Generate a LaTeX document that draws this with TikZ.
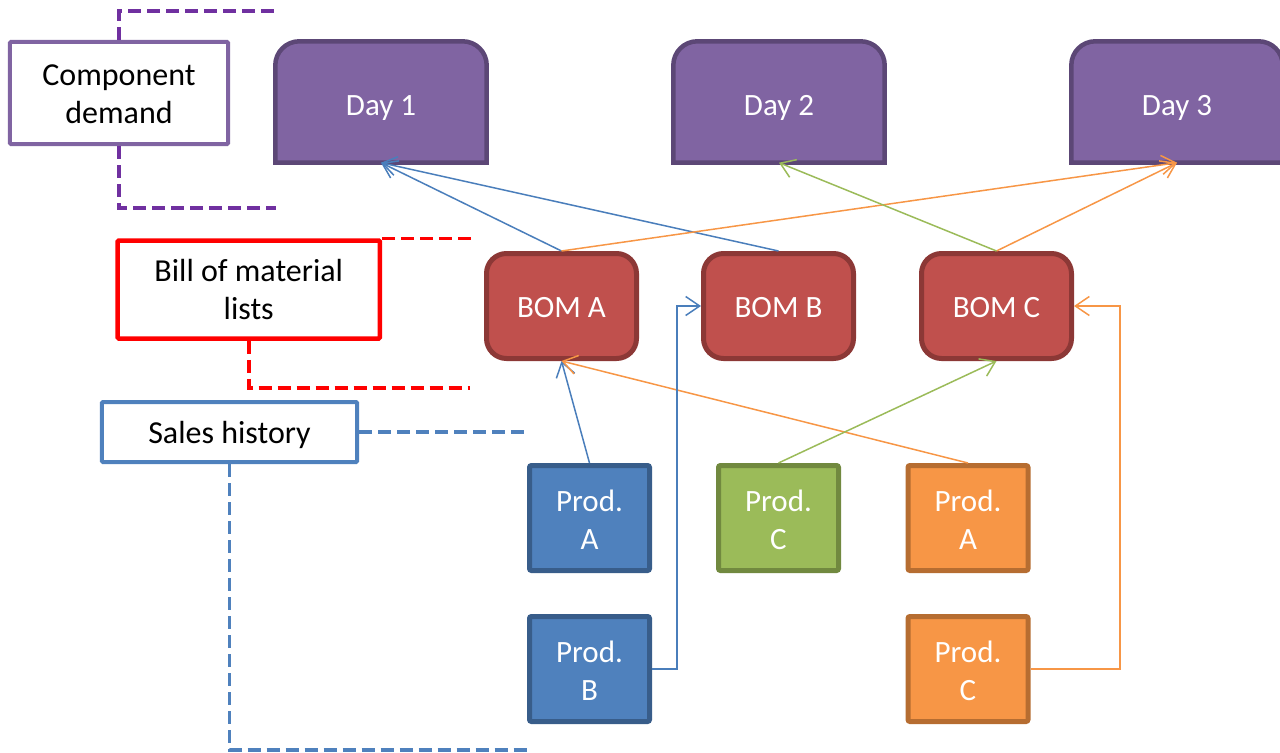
\documentclass[tikz,border=0pt]{standalone}
\usepackage{fontspec}
\setmainfont{Carlito}
\usetikzlibrary{arrows.meta,backgrounds}

\definecolor{dayfill}{HTML}{8064A2}
\definecolor{dayline}{HTML}{5C4776}
\definecolor{bomfill}{HTML}{C0504D}
\definecolor{bomline}{HTML}{8C3836}
\definecolor{bluefill}{HTML}{4F81BD}
\definecolor{blueline}{HTML}{385D8A}
\definecolor{greenfill}{HTML}{9BBB59}
\definecolor{greenline}{HTML}{71893F}
\definecolor{orangefill}{HTML}{F79646}
\definecolor{orangeline}{HTML}{B66D31}
\definecolor{linkblue}{HTML}{4A7EBB}
\definecolor{linkorange}{HTML}{F79646}
\definecolor{linkgreen}{HTML}{9BBB59}
\definecolor{keypurple}{HTML}{8064A2}
\definecolor{dashpurple}{HTML}{7030A0}
\definecolor{keyred}{HTML}{FF0000}
\definecolor{keyblue}{HTML}{4F81BD}

\begin{document}
\begin{tikzpicture}[x=1bp,y=-1bp,
  txt/.style={font=\fontsize{31bp}{38bp}\selectfont, align=center, inner sep=0pt},
  keytxt/.style={font=\fontsize{32bp}{38bp}\selectfont, align=center, inner sep=0pt},
  oneline/.style={text height=28.6bp, text depth=6bp},
  twoline/.style={text height=68bp, text depth=6bp},
  daybox/.style={txt, text=white, text height=34bp, text depth=6bp,
    minimum width=211bp, minimum height=121bp},
  dayshape/.style={fill=dayfill, draw=dayline, line width=4.5bp},
  bombox/.style={txt, oneline, text=white, rounded corners=20bp, fill=bomfill, draw=bomline,
    line width=5bp, minimum width=150bp, minimum height=105bp},
  prodbox/.style={txt, twoline, text=white, rounded corners=2bp, line width=5bp,
    minimum width=120bp, minimum height=105bp},
  bluebox/.style={prodbox, fill=bluefill, draw=blueline},
  greenbox/.style={prodbox, fill=greenfill, draw=greenline},
  orangebox/.style={prodbox, fill=orangefill, draw=orangeline},
  keybox/.style={keytxt, text=black, fill=white, line width=4bp, rounded corners=1bp},
  link/.style={line width=1.5bp, -{Straight Barb[length=14bp,width=19bp,line width=1.5bp]}},
  keydash/.style={line width=3.5bp, dash pattern=on 13bp off 6bp},
]
\useasboundingbox (0,0) rectangle (1280,753);
\clip (0,0) rectangle (1280,753);

% day columns (flat bottom, rounded top)
\node[daybox] (day1) at (381,102) {Day 1};
\node[daybox] (day2) at (779,102) {Day 2};
\node[daybox] (day3) at (1177,102) {Day 3};
\begin{scope}[on background layer]
  \foreach \d in {day1,day2,day3}
    \draw[dayshape] (\d.south west) [rounded corners=24bp] -- (\d.north west)
      -- (\d.north east) [sharp corners] -- (\d.south east) -- cycle;
\end{scope}

% bills of material
\node[bombox] (bomA) at (561.5,306) {BOM A};
\node[bombox] (bomB) at (778.5,306) {BOM B};
\node[bombox] (bomC) at (996.5,306) {BOM C};

% products
\node[bluebox]   (pA)  at (589.5,518) {Prod.\\A};
\node[greenbox]  (pC)  at (778.5,518) {Prod.\\C};
\node[orangebox] (oA)  at (968,518)   {Prod.\\A};
\node[bluebox]   (pB)  at (589.5,669) {Prod.\\B};
\node[orangebox] (oC)  at (968,669)   {Prod.\\C};

% legend boxes
\node[keybox, text height=66bp, text depth=6bp, draw=keypurple, minimum width=218bp, minimum height=102bp] (kcd) at (119,93) {Component\\demand};
\node[keybox, text height=65.8bp, text depth=6bp, draw=keyred, line width=4.5bp, minimum width=262bp, minimum height=98bp] (kbom) at (248.75,289.5) {Bill of material\\lists};
\node[keybox, oneline, draw=keyblue, minimum width=255bp, minimum height=60bp] (ksh) at (229.5,432) {Sales history};

% legend brackets
\draw[keydash, dashpurple] (kcd.north) |- (276,11);
\draw[keydash, dashpurple] (kcd.south) |- (276,208);
\draw[keydash, keyred] (kbom.north east) -- ++(90,0);
\draw[keydash, keyred] (kbom.south) |- (470,388);
\draw[keydash, keyblue] (ksh.east) -- (529,432);
\draw[keydash, keyblue] (ksh.south) |- (528,750);

% BOMs to days
\draw[link, linkblue] (bomA.north) -- (day1.south);
\draw[link, linkblue] (bomB.north) -- (day1.south);
\draw[link, linkorange] (bomA.north) -- (day3.south);
\draw[link, linkorange] (bomC.north) -- (day3.south);
\draw[link, linkgreen] (bomC.north) -- (day2.south);

% products to BOMs
\draw[link, linkblue] (pA.north) -- (bomA.south);
\draw[link, linkorange] (oA.north) -- (bomA.south);
\draw[link, linkgreen] (pC.north) -- (bomC.south);
\draw[link, linkblue] (pB.east) -- ++(25,0) |- (bomB.west);
\draw[link, linkorange] (oC.east) -- ++(89.5,0) |- (bomC.east);
\end{tikzpicture}
\end{document}
